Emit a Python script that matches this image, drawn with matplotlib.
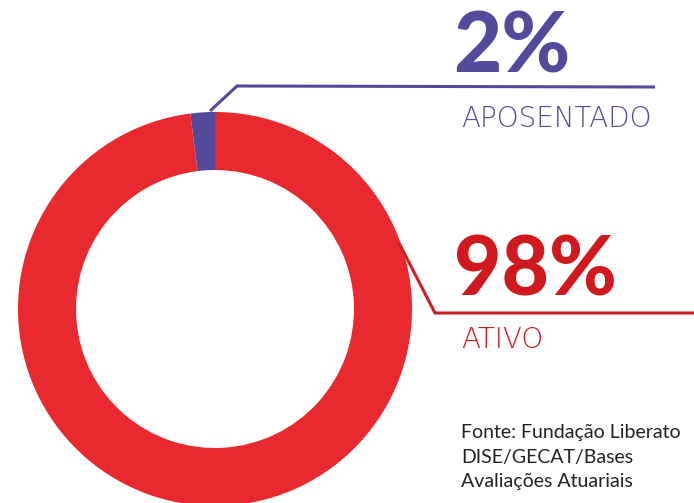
import matplotlib
matplotlib.use("Agg")
import matplotlib.pyplot as plt

# dados
labels = ["APOSENTADO", "ATIVO"]
shares = [2, 98]
pct_text = ["2%", "98%"]
colors = ["#534A9B", "#E8292F"]
text_colors = ["#534A9B", "#D0191F"]
fonte = ["Fonte: Fundação Liberato", "DISE/GECAT/Bases", "Avaliações Atuariais"]

W, H = 694, 503
fig = plt.figure(figsize=(W / 100, H / 100), dpi=100)
ax = fig.add_axes([0, 0, 1, 1])

# rosca (pixels, y para cima)
cx, cy = 215, H - 309
ax.pie(shares, colors=colors, startangle=90, counterclock=True,
       center=(cx, cy), radius=197,
       wedgeprops=dict(width=58, linewidth=0))

# linhas de chamada
ax.plot([210, 237, 655], [H - 111, H - 86, H - 87], color=colors[0], lw=2.2,
        solid_capstyle="butt", solid_joinstyle="miter")
ax.plot([399, 435, 694], [H - 243, H - 313, H - 313], color="#CC1F24", lw=2.2,
        solid_capstyle="butt", solid_joinstyle="miter")

# percentuais e rotulos
ax.text(453, H - 72, pct_text[0], color=text_colors[0], fontsize=60,
        fontweight=900, family="Lato", ha="left", va="baseline")
ax.text(461, H - 127, labels[0], color=text_colors[0], fontsize=20,
        fontweight="light", family="DejaVu Sans", ha="left", va="baseline")
ax.text(454, H - 295, pct_text[1], color=text_colors[1], fontsize=59,
        fontweight=900, family="Lato", ha="left", va="baseline")
ax.text(461, H - 348, labels[1], color=text_colors[1], fontsize=20,
        fontweight="light", family="DejaVu Sans", ha="left", va="baseline")

# fonte
for i, line in enumerate(fonte):
    ax.text(461, H - 438 - 24.5 * i, line, color="#222222", fontsize=14,
            family="Lato", ha="left", va="baseline")

ax.set_xlim(0, W)
ax.set_ylim(0, H)
ax.set_aspect("equal")
ax.axis("off")

fig.savefig("out.png", dpi=100)
